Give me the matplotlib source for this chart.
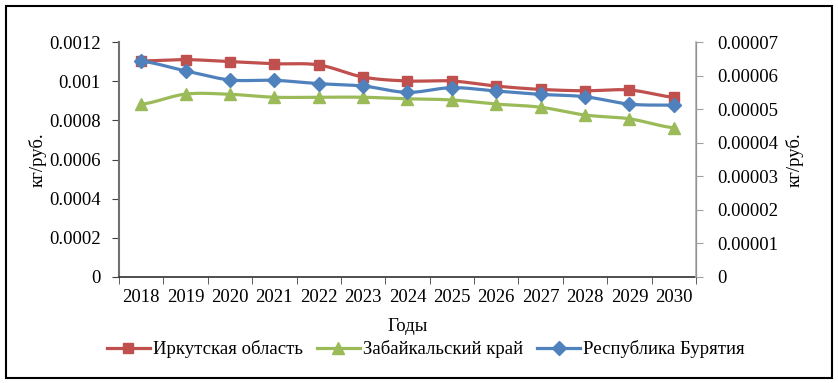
import numpy as np
import matplotlib
matplotlib.use("Agg")
import matplotlib.pyplot as plt
from matplotlib.patches import Rectangle
from matplotlib.lines import Line2D

plt.rcParams['font.family'] = ['Liberation Serif', 'DejaVu Serif']

years = ['2018', '2019', '2020', '2021', '2022', '2023', '2024',
         '2025', '2026', '2027', '2028', '2029', '2030']
irkutsk = [0.001103, 0.00111, 0.0011, 0.001089, 0.001083, 0.001021, 0.001001,
           0.001001, 0.000975, 0.000958, 0.000951, 0.000955, 0.000918]
zabaikal = [0.000882, 0.000934, 0.000933, 0.000918, 0.000918, 0.000918, 0.00091,
            0.000904, 0.000883, 0.000867, 0.000827, 0.000808, 0.000762]
# Бурятия - на вспомогательной оси
buryatia = [0.0000643, 0.0000614, 0.0000587, 0.0000586, 0.0000576, 0.0000569, 0.000055,
            0.0000564, 0.0000554, 0.0000544, 0.0000537, 0.0000515, 0.0000512]

left_ticks = [0, 0.0002, 0.0004, 0.0006, 0.0008, 0.001, 0.0012]
left_labels = ['0', '0.0002', '0.0004', '0.0006', '0.0008', '0.001', '0.0012']
right_ticks = [0, 0.00001, 0.00002, 0.00003, 0.00004, 0.00005, 0.00006, 0.00007]
right_labels = ['0', '0.00001', '0.00002', '0.00003', '0.00004', '0.00005', '0.00006', '0.00007']

red = '#C0504D'
green = '#9BBB59'
blue = '#4F81BD'


def smooth(xs, ys, n=24):
    # excel-like smoothed line (catmull-rom through the points)
    xs = np.asarray(xs, float)
    ys = np.asarray(ys, float)
    px = np.concatenate([[xs[0]], xs, [xs[-1]]])
    py = np.concatenate([[ys[0]], ys, [ys[-1]]])
    ox, oy = [], []
    t = np.linspace(0, 1, n)
    for i in range(1, len(px) - 2):
        p0, p1, p2, p3 = py[i - 1], py[i], py[i + 1], py[i + 2]
        c1 = p1 + (p2 - p0) / 6
        c2 = p2 - (p3 - p1) / 6
        yy = (1 - t)**3 * p1 + 3 * (1 - t)**2 * t * c1 + 3 * (1 - t) * t**2 * c2 + t**3 * p2
        xx = px[i] + (px[i + 1] - px[i]) * t
        ox.extend(xx)
        oy.extend(yy)
    return ox, oy


x = np.arange(len(years))

fig = plt.figure(figsize=(8.38, 3.83), dpi=100)
ax = fig.add_axes([0.142, 0.2768, 0.6885, 0.6135])
ax2 = ax.twinx()

lw = 2.3
ms = 7
sx, sy = smooth(x, irkutsk)
ax.plot(sx, sy, color=red, lw=lw, zorder=3)
ax.plot(x, irkutsk, 's', color=red, ms=ms, zorder=4)
sx, sy = smooth(x, zabaikal)
ax.plot(sx, sy, color=green, lw=lw, zorder=3)
ax.plot(x, zabaikal, '^', color=green, ms=ms + 1, zorder=4)
sx, sy = smooth(x, buryatia)
ax2.plot(sx, sy, color=blue, lw=lw, zorder=3)
ax2.plot(x, buryatia, 'D', color=blue, ms=ms, zorder=4)

ax.set_xlim(-0.5, len(years) - 0.5)
ax.set_ylim(0, 0.0012)
ax2.set_ylim(0, 0.00007)

ax.set_xticks(x)
ax.set_xticklabels(years, fontsize=13.5)
ax.set_xticks(np.arange(len(years) + 1) - 0.5, minor=True)
ax.tick_params(axis='x', which='major', length=0, pad=9)
ax.tick_params(axis='x', which='minor', length=5, direction='out', color='#404040')

ax.set_yticks(left_ticks)
ax.set_yticklabels(left_labels, fontsize=13.5)
ax.tick_params(axis='y', length=5, direction='out', color='#404040', pad=8)
ax2.set_yticks(right_ticks)
ax2.set_yticklabels(right_labels, fontsize=13.5)
ax2.tick_params(axis='y', length=5, direction='out', color='#A0A0A0', pad=10)

for a in (ax, ax2):
    a.spines['top'].set_visible(False)
ax.spines['left'].set_color('#707070')
ax.spines['left'].set_linewidth(1.5)
ax.spines['bottom'].set_color('#303030')
ax.spines['bottom'].set_linewidth(1.2)
ax2.spines['right'].set_color('#B0B0B0')
ax2.spines['right'].set_linewidth(1.2)
ax2.spines['left'].set_visible(False)
ax2.spines['bottom'].set_visible(False)

ax.set_ylabel('кг/руб.', fontsize=13.5, labelpad=2)
ax2.set_ylabel('кг/руб.', fontsize=13.5, rotation=90, labelpad=6)
ax.set_xlabel('Годы', fontsize=13.5, labelpad=8)

handles = [
    Line2D([], [], color=red, lw=lw, marker='s', ms=ms),
    Line2D([], [], color=green, lw=lw, marker='^', ms=ms + 1),
    Line2D([], [], color=blue, lw=lw, marker='D', ms=ms),
]
names = ['Иркутская область', 'Забайкальский край', 'Республика Бурятия']
fig.legend(handles, names, loc='center', bbox_to_anchor=(0.508, 0.088), ncol=3,
           frameon=False, fontsize=13.5, handlelength=2.3, handletextpad=0.15,
           columnspacing=0.75)

fig.patches.append(Rectangle((0.007, 0.013), 0.986, 0.972, transform=fig.transFigure,
                             fill=False, edgecolor='black', linewidth=1.5))

fig.savefig('out.png', dpi=100)
